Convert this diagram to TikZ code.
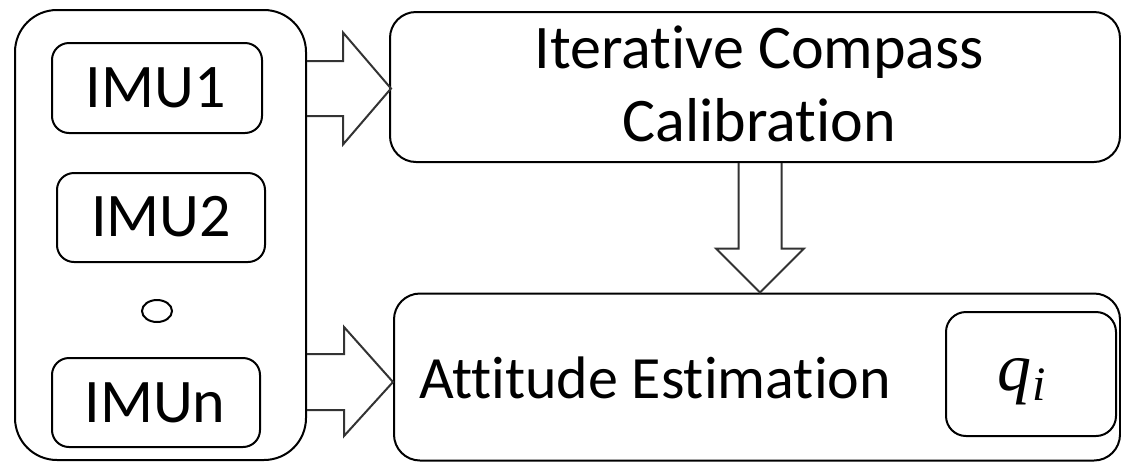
\documentclass[tikz,border=0pt]{standalone}
\usepackage{fontspec}
\setmainfont{Carlito}[RawFeature={-liga;-clig;-dlig}]
\newfontfamily\qfont{Liberation Serif}
\usetikzlibrary{calc,shapes.geometric}
\begin{document}
\begin{tikzpicture}[x=0.5pt,y=-0.5pt,
  box/.style={draw=black,line width=1pt,inner sep=0pt},
  lbl/.style={inner sep=0pt,font=\fontsize{31}{36.5}\selectfont},
  blk/.style={draw=black!80,line width=1pt,line join=miter}]
\useasboundingbox (0,0) rectangle (1121,462);
% left container and IMU boxes
\node[box,rounded corners=21pt,minimum width=145.5pt,minimum height=225pt] (outer) at (160.5,235) {};
\node[box,rounded corners=8.5pt,minimum width=105pt,minimum height=45pt] (imu1) at (157,88) {};
\node[box,rounded corners=8.5pt,minimum width=104pt,minimum height=44.5pt] (imu2) at (161,217.5) {};
\node[box,rounded corners=8.5pt,minimum width=104pt,minimum height=44.5pt] (imun) at (156,402.5) {};
\node[box,ellipse,minimum width=15pt,minimum height=11pt] (dots) at (157,311) {};
\node[lbl,anchor=base] (t1) at (155.5,107) {IMU1};
\node[lbl,anchor=base] (t2) at (161,236.5) {IMU2};
\node[lbl,anchor=base] (tn) at (155,422) {IMUn};
% right boxes
\node[box,rounded corners=13pt,minimum width=365pt,minimum height=75pt] (top) at (755,87) {};
\node[box,rounded corners=13pt,minimum width=363pt,minimum height=83.5pt] (bottom) at (757,377) {};
\node[box,rounded corners=10pt,minimum width=85pt,minimum height=62pt] (qbox) at (1031,374) {};
\node[lbl,anchor=north,align=center] (ttop) at (759.5,25) {Iterative Compass\\Calibration};
\node[lbl,anchor=base,font=\fontsize{30}{36}\selectfont] (tatt) at (655,398) {Attitude Estimation};
\node[inner sep=0pt,anchor=base,font=\qfont\itshape\fontsize{34}{40}\selectfont] (tq) at (1022,390)
  {q\kern0.5pt\raisebox{-5pt}{\fontsize{24}{24}\selectfont i}};
% block arrows
\coordinate (tipA) at ($(top.west)+(1pt,-0.75pt)$);
\coordinate (tipB) at ($(bottom.west)+(0pt,-2.5pt)$);
\draw[blk] let \p1=(outer.east), \p2=(tipA) in
  (\x1,{\y2+13.75pt}) -- ({\x2-24pt},{\y2+13.75pt}) -- ({\x2-24pt},{\y2+28pt}) -- (\x2,\y2)
  -- ({\x2-24pt},{\y2-28pt}) -- ({\x2-24pt},{\y2-13.75pt}) -- (\x1,{\y2-13.75pt});
\draw[blk] let \p1=(outer.east), \p2=(tipB) in
  (\x1,{\y2+14pt}) -- ({\x2-24.5pt},{\y2+14pt}) -- ({\x2-24.5pt},{\y2+27.5pt}) -- (\x2,\y2)
  -- ({\x2-24.5pt},{\y2-27pt}) -- ({\x2-24.5pt},{\y2-14pt}) -- (\x1,{\y2-14pt});
\coordinate (dnx) at (760,0);
\draw[blk] let \p1=(top.south -| dnx), \p2=(bottom.north -| dnx) in
  ({\x1-10.75pt},\y1) -- ({\x1-10.75pt},{\y2+22pt}) -- ({\x1-22pt},{\y2+22pt}) -- (\x2,\y2)
  -- ({\x1+22pt},{\y2+22pt}) -- ({\x1+10.75pt},{\y2+22pt}) -- ({\x1+10.75pt},\y1);
\end{tikzpicture}
\end{document}
